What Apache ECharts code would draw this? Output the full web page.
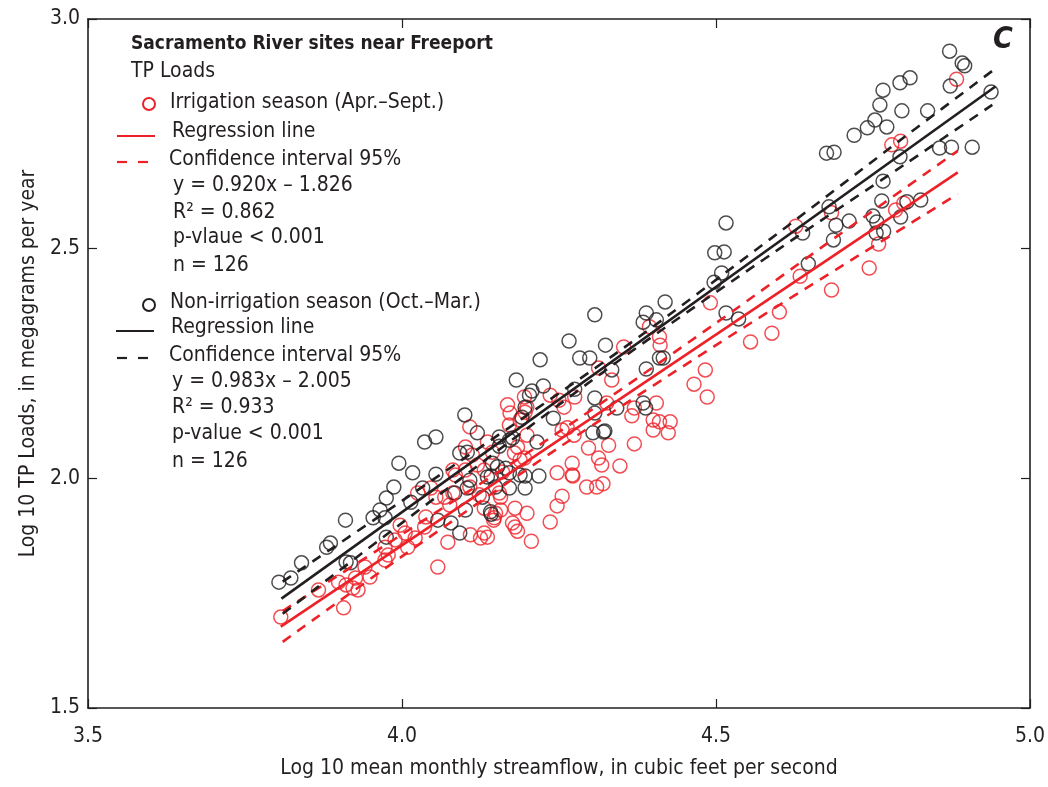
<!DOCTYPE html>
<html>
<head>
<meta charset="utf-8">
<script src="https://cdn.jsdelivr.net/npm/echarts@6/dist/echarts.min.js"></script>
<style>
  html, body { margin: 0; padding: 0; background: #fff; }
  #chart { width: 1048px; height: 787px; }
</style>
</head>
<body>
<div id="chart"></div>
<script>
// log10 streamflow vs log10 TP loads
const irrigationPts = [
  [4.883,2.869],[4.780,2.726],[4.794,2.734],[4.786,2.584],[4.799,2.599],[4.759,2.510],[4.744,2.458],[4.684,2.578],
  [4.627,2.549],[4.634,2.440],[4.684,2.410],[4.491,2.382],[4.601,2.362],[4.589,2.316],[4.555,2.297],[4.483,2.236],
  [4.465,2.205],[4.486,2.177],[4.411,2.290],[4.410,2.123],[4.427,2.123],[4.424,2.099],[4.405,2.164],[4.353,2.286],
  [4.394,2.330],[4.410,2.308],[4.313,2.240],[4.334,2.214],[4.275,2.177],[4.250,2.170],[4.258,2.155],[4.326,2.164],
  [4.366,2.136],[4.400,2.127],[4.263,2.110],[4.274,2.094],[4.329,2.072],[4.370,2.075],[4.297,2.066],[4.313,2.044],
  [4.318,2.029],[4.347,2.027],[4.271,2.033],[4.247,2.012],[4.271,2.007],[4.199,2.155],[4.184,2.068],[4.188,2.040],
  [4.255,2.105],[4.400,2.105],[4.370,2.153],[4.294,1.981],[4.310,1.981],[4.320,1.988],[4.272,2.005],[4.255,1.961],
  [4.247,1.940],[4.199,1.924],[4.236,1.905],[4.180,1.894],[4.184,1.885],[4.206,1.863],[4.146,1.909],[4.157,1.959],
  [4.136,1.872],[4.172,2.142],[4.188,2.127],[4.171,2.116],[4.136,2.079],[4.144,2.057],[4.179,2.055],[4.195,2.044],
  [4.112,2.051],[4.120,2.029],[4.101,2.018],[4.085,2.007],[4.131,2.018],[4.160,2.014],[4.108,1.981],[4.081,1.968],
  [4.068,1.959],[4.123,1.964],[4.155,1.968],[4.076,1.942],[4.131,1.935],[4.176,1.903],[4.147,1.914],[4.038,1.916],
  [3.997,1.898],[4.236,2.181],[4.196,2.144],[4.108,2.112],[4.199,2.094],[4.025,1.968],[4.046,1.979],[4.149,1.924],
  [3.807,1.698],[3.867,1.757],[3.907,1.718],[3.922,1.761],[3.926,1.783],[3.949,1.785],[3.930,1.757],[3.941,1.807],
  [3.973,1.822],[3.978,1.833],[3.973,1.850],[4.005,1.881],[3.989,1.866],[4.021,1.870],[4.057,1.807],[4.073,1.861],
  [4.109,1.877],[4.125,1.870],[4.157,1.931],[4.131,1.881],[4.036,1.894],[4.009,1.850],[3.911,1.768],[3.899,1.774],
  [4.101,2.068],[4.081,2.018],[4.054,1.959],[4.180,1.935],[4.195,2.177],[4.168,2.160]
];
const nonIrrigationPts = [
  [4.872,2.930],[4.892,2.904],[4.896,2.898],[4.873,2.854],[4.938,2.841],[4.809,2.872],[4.793,2.861],[4.766,2.845],
  [4.761,2.813],[4.796,2.800],[4.837,2.800],[4.753,2.780],[4.741,2.763],[4.772,2.765],[4.720,2.747],[4.793,2.700],
  [4.856,2.719],[4.875,2.721],[4.908,2.721],[4.676,2.708],[4.688,2.710],[4.766,2.647],[4.764,2.604],[4.804,2.602],
  [4.826,2.606],[4.794,2.569],[4.750,2.571],[4.756,2.558],[4.755,2.534],[4.767,2.538],[4.712,2.560],[4.691,2.551],
  [4.687,2.519],[4.680,2.591],[4.638,2.534],[4.516,2.556],[4.498,2.491],[4.513,2.493],[4.509,2.447],[4.497,2.427],
  [4.647,2.467],[4.516,2.360],[4.536,2.347],[4.419,2.384],[4.405,2.345],[4.307,2.356],[4.389,2.360],[4.384,2.340],
  [4.266,2.299],[4.324,2.290],[4.220,2.258],[4.283,2.262],[4.299,2.262],[4.334,2.236],[4.389,2.238],[4.410,2.262],
  [4.416,2.262],[4.182,2.214],[4.207,2.190],[4.225,2.201],[4.275,2.194],[4.307,2.175],[4.342,2.153],[4.307,2.142],
  [4.384,2.164],[4.100,2.138],[4.241,2.131],[4.323,2.103],[4.304,2.099],[4.054,2.090],[4.036,2.079],[4.120,2.099],
  [4.196,2.155],[4.191,2.133],[4.215,2.079],[4.155,2.090],[4.171,2.083],[4.092,2.055],[4.104,2.057],[3.995,2.033],
  [4.017,2.012],[4.054,2.009],[4.144,2.033],[4.152,2.025],[4.171,2.012],[4.142,2.005],[4.196,2.005],[4.218,2.005],
  [4.171,1.979],[4.196,1.979],[4.104,1.979],[4.084,1.968],[3.987,1.981],[4.033,1.979],[3.975,1.957],[4.014,1.948],
  [4.141,1.927],[3.965,1.931],[4.101,1.931],[4.203,2.181],[4.388,2.153],[4.188,2.007],[4.149,1.981],[4.142,1.922],
  [4.155,2.070],[4.176,2.088],[4.136,2.003],[4.165,2.022],[4.108,1.996],[4.128,1.959],[4.078,1.903],[3.954,1.914],
  [3.910,1.909],[3.886,1.859],[3.880,1.850],[3.840,1.816],[3.823,1.783],[3.804,1.774],[3.911,1.818],[3.918,1.816],
  [3.975,1.872],[3.973,1.914],[4.092,1.881],[4.057,1.909],[4.321,2.101]
];

// regression lines (end points) and 95% confidence bands
const irrRegLine = [[3.807,1.677],[4.885,2.666]];
const irrCiUpper = [[3.81,1.711],[4.0,1.878],[4.25,2.101],[4.5,2.338],[4.7,2.534],[4.885,2.713]];
const irrCiLower = [[3.81,1.644],[4.0,1.830],[4.25,2.067],[4.5,2.290],[4.7,2.462],[4.885,2.619]];
const nonRegLine = [[3.808,1.738],[4.945,2.853]];
const nonCiUpper = [[3.81,1.775],[4.0,1.951],[4.35,2.281],[4.6,2.535],[4.8,2.743],[4.94,2.887]];
const nonCiLower = [[3.81,1.705],[4.0,1.903],[4.35,2.261],[4.6,2.499],[4.8,2.683],[4.94,2.813]];

const xTicks = [3.5, 4.0, 4.5, 5.0];
const yTicks = [1.5, 2.0, 2.5, 3.0];

const RED = "#ed2128";
const INK = "#231f20";
const FONT = "'Liberation Sans Narrow', 'DejaVu Sans Condensed', sans-serif";

const chart = echarts.init(document.getElementById("chart"));

function scatter(name, data, color) {
  return {
    name: name,
    type: "scatter",
    data: data,
    symbol: "circle",
    symbolSize: 14,
    itemStyle: { color: "rgba(0,0,0,0)", borderColor: color, borderWidth: 1.5 },
    silent: true,
    z: 2
  };
}
function line(name, data, color, dashed) {
  return {
    name: name,
    type: "line",
    data: data,
    symbol: "none",
    smooth: dashed ? 0.3 : false,
    lineStyle: { color: color, width: 2.6, type: dashed ? [10, 8] : "solid" },
    silent: true,
    z: 3
  };
}

// legend block (drawn as graphic text, top-left inside the frame)
const txt = (x, y, s, extra) => ({
  type: "text", x: x, y: y,
  style: Object.assign({ text: s, fill: INK, font: "21px " + FONT, verticalAlign: "middle" }, extra || {})
});
const seg = (x1, x2, y, color) => ({
  type: "line", shape: { x1: x1, y1: y, x2: x2, y2: y },
  style: { stroke: color, lineWidth: 2.2 }
});
const ring = (x, y, color) => ({
  type: "circle", shape: { cx: x, cy: y, r: 6 },
  style: { fill: "none", stroke: color, lineWidth: 2 }
});

const graphics = [
  txt(131, 44, "Sacramento River sites near Freeport", { font: "bold 19px " + FONT }),
  txt(131, 72, "TP Loads"),
  ring(149, 104, RED), txt(170, 103, "Irrigation season (Apr.\u2013Sept.)"),
  seg(117, 155, 136, RED), txt(172, 132, "Regression line"),
  seg(117, 127, 162, RED), seg(138, 148, 162, RED), txt(169, 160, "Confidence interval 95%"),
  txt(173, 186, "y = 0.920x \u2013 1.826"),
  txt(173, 213, "R\u00b2 = 0.862"),
  txt(173, 238, "p-vlaue < 0.001"),
  txt(173, 266, "n = 126"),
  ring(149, 305, INK), txt(170, 303, "Non-irrigation season (Oct.\u2013Mar.)"),
  seg(116, 154, 331, INK), txt(171, 328, "Regression line"),
  seg(117, 127, 358, INK), seg(138, 148, 358, INK), txt(169, 356, "Confidence interval 95%"),
  txt(172, 382, "y = 0.983x \u2013 2.005"),
  txt(172, 408, "R\u00b2 = 0.933"),
  txt(172, 434, "p-value < 0.001"),
  txt(172, 462, "n = 126"),
  txt(1003, 40, "C", { font: "italic bold 30px " + FONT, align: "center" })
];

const tickFmt = (v) => v.toFixed(1);
const axisBase = {
  type: "value",
  splitLine: { show: false },
  axisLine: { show: true, lineStyle: { color: INK, width: 1.6 } },
  axisTick: { show: true, inside: true, length: 9, lineStyle: { color: INK, width: 1.2 } }
};

const option = {
  backgroundColor: "#fff",
  animation: false,
  grid: { left: 88, right: 12, top: 19, bottom: 79 },
  xAxis: [
    Object.assign({}, axisBase, {
      min: xTicks[0], max: xTicks[xTicks.length - 1], interval: 0.5, position: "bottom",
      axisLabel: { formatter: tickFmt, fontSize: 21, fontFamily: FONT, color: INK, margin: 18 },
      name: "Log 10 mean monthly streamflow, in cubic feet per second",
      nameLocation: "middle", nameGap: 50,
      nameTextStyle: { fontSize: 21, fontFamily: FONT, color: INK }
    }),
    Object.assign({}, axisBase, {
      min: xTicks[0], max: xTicks[xTicks.length - 1], interval: 0.5, position: "top",
      axisLabel: { show: false }
    })
  ],
  yAxis: [
    Object.assign({}, axisBase, {
      min: yTicks[0], max: yTicks[yTicks.length - 1], interval: 0.5, position: "left",
      axisLabel: { formatter: tickFmt, fontSize: 21, fontFamily: FONT, color: INK, margin: 8 },
      name: "Log 10 TP Loads, in megagrams per year",
      nameLocation: "middle", nameGap: 47,
      nameTextStyle: { fontSize: 21, fontFamily: FONT, color: INK }
    }),
    Object.assign({}, axisBase, {
      min: yTicks[0], max: yTicks[yTicks.length - 1], interval: 0.5, position: "right",
      axisLabel: { show: false }
    })
  ],
  series: [
    scatter("Irrigation season", irrigationPts, RED),
    scatter("Non-irrigation season", nonIrrigationPts, INK),
    line("Irrigation regression", irrRegLine, RED, false),
    line("Irrigation CI upper", irrCiUpper, RED, true),
    line("Irrigation CI lower", irrCiLower, RED, true),
    line("Non-irrigation regression", nonRegLine, INK, false),
    line("Non-irrigation CI upper", nonCiUpper, INK, true),
    line("Non-irrigation CI lower", nonCiLower, INK, true)
  ],
  graphic: graphics
};

chart.setOption(option);
</script>
</body>
</html>
